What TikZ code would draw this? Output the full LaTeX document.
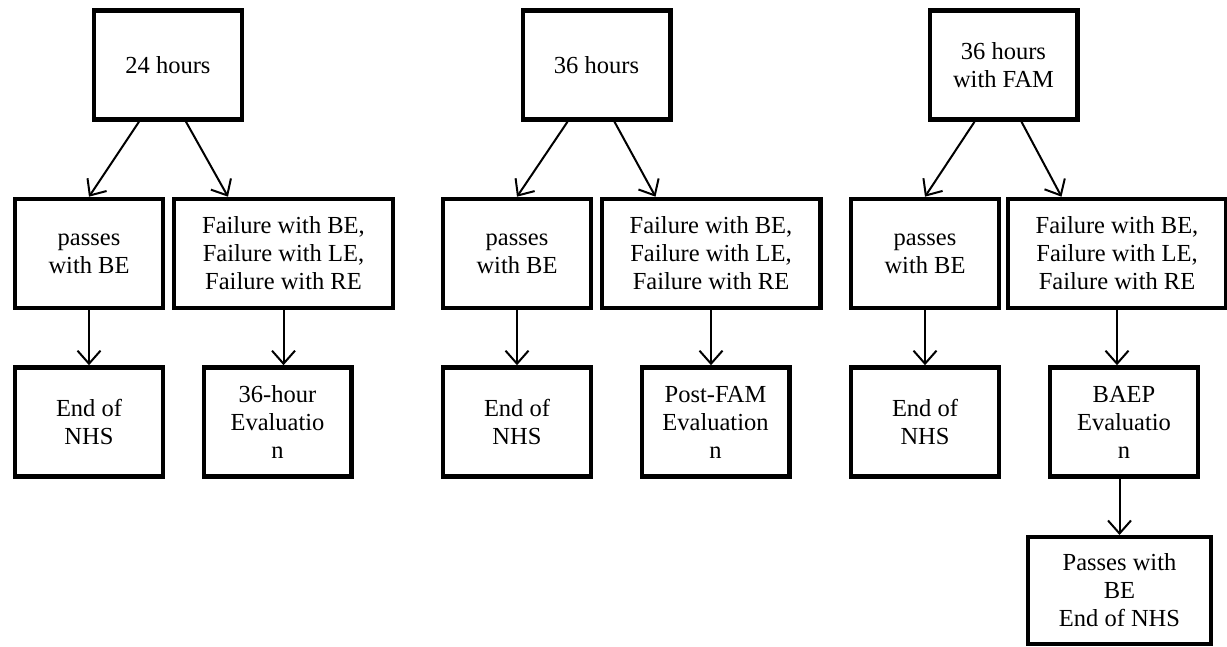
\documentclass[tikz,border=0pt]{standalone}
\usepackage{fontspec}
\setmainfont{Liberation Serif}
\usetikzlibrary{arrows.meta}

\tikzset{
  stage/.style={draw, line width=2.2pt, align=center, inner sep=2pt,
    minimum width=73.8pt, minimum height=54.6pt,
    font=\fontsize{12.25}{14}\selectfont},
  failbox/.style={stage, minimum width=109.3pt},
  flow/.style={line width=1pt, -{Straight Barb[length=6.5pt,width=11.5pt]}}
}

\begin{document}
\begin{tikzpicture}[x=0.5pt,y=-0.5pt]
  \useasboundingbox (0,0) rectangle (1227,647);
  % one column per screening protocol: start box, two outcomes, next step
  \foreach \c/\xt/\xp/\xf/\xe/\tlab/\elab in {
      1/168/89/283.5/277.5/{24 hours}/{36-hour\\Evaluatio\\n},
      2/596.5/517/711/715.5/{36 hours}/{Post-FAM\\Evaluation\\n},
      3/1003.5/925/1117/1124/{36 hours\\with FAM}/{BAEP\\Evaluatio\\n}} {
    \node[stage] (top\c) at (\xt,65) {\tlab};
    \node[stage] (pass\c) at (\xp,253.5) {passes\\with BE};
    \node[failbox] (fail\c) at (\xf,253.5) {Failure with BE,\\Failure with LE,\\Failure with RE};
    \node[stage] (end\c) at (\xp,422) {End of\\NHS};
    \node[stage] (eval\c) at (\xe,422) {\elab};
    \draw[flow] ([xshift=-14.5pt]top\c.south) -- (pass\c.north);
    \draw[flow] ([xshift=9pt]top\c.south) -- ([xshift=28pt]fail\c.north west);
    \draw[flow] (pass\c.south) -- (end\c.north);
    \draw[flow] (fail\c.south) -- (fail\c.south |- eval\c.north);
  }

  % extra step after BAEP
  \node[stage, minimum width=91.3pt, minimum height=53.3pt] (done3) at (1119.5,590.5)
    {Passes with\\BE\\End of NHS};
  \draw[flow] (done3.north |- eval3.south) -- (done3.north);
\end{tikzpicture}
\end{document}
